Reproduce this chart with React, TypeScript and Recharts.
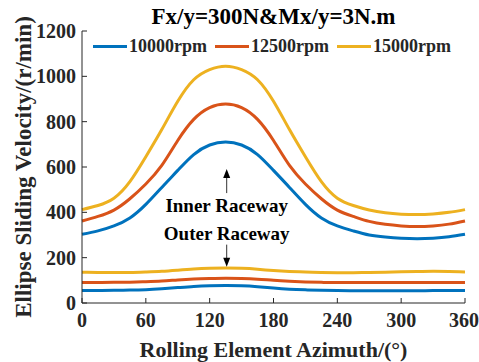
import React from 'react';
import { LineChart, Line, XAxis, YAxis, Legend, ReferenceDot } from 'recharts';

const azimuth = [0, 15, 30, 45, 60, 75, 90, 105, 120, 135, 150, 165, 180, 195, 210, 225, 240, 255, 270, 285, 300, 315, 330, 345, 360];

const inner10000 = [303, 318, 340, 375, 435, 510, 585, 655, 697, 710, 697, 655, 585, 510, 435, 375, 340, 318, 300, 291, 286, 284, 286, 292, 303];
const inner12500 = [362, 382, 410, 460, 525, 607, 717, 810, 862, 878, 862, 810, 717, 607, 525, 460, 410, 382, 360, 347, 340, 337, 340, 348, 362];
const inner15000 = [412, 430, 462, 535, 645, 765, 890, 985, 1030, 1045, 1030, 985, 890, 765, 645, 535, 462, 430, 410, 398, 392, 390, 393, 400, 412];

const outer10000 = [55, 55, 56, 57, 59, 63, 68, 73, 76, 77, 76, 72, 66, 61, 58, 56, 55, 54, 54, 54, 54, 54, 55, 55, 55];
const outer12500 = [90, 90, 91, 92, 94, 97, 102, 106, 108, 109, 108, 105, 100, 96, 93, 91, 90, 90, 90, 90, 90, 90, 90, 90, 90];
const outer15000 = [136, 135, 135, 135, 137, 140, 145, 150, 153, 154, 153, 149, 143, 139, 137, 135, 134, 134, 135, 136, 138, 139, 140, 139, 137];

const xTicks = [0, 60, 120, 180, 240, 300, 360];
const yTicks = [0, 200, 400, 600, 800, 1000, 1200];

const data = azimuth.map((a, i) => ({
    a,
    i1: inner10000[i],
    i2: inner12500[i],
    i3: inner15000[i],
    o1: outer10000[i],
    o2: outer12500[i],
    o3: outer15000[i],
}));

const FONT = '"Liberation Serif", serif';
const INK = '#262626';
const C1 = '#0072BD';
const C2 = '#D95319';
const C3 = '#EDB120';

const tickStyle = { fontFamily: FONT, fontSize: 20, fontWeight: 700, fill: INK };

const YLabel = (props: any) => {
    const vb = props.viewBox;
    const cy = vb.y + vb.height / 2;
    return (
        <text
            transform={`translate(23, ${cy}) rotate(-90)`}
            textAnchor="middle"
            dominantBaseline="central"
            fontFamily={FONT}
            fontSize={23}
            fontWeight={700}
            fill={INK}
        >
            Ellipse Sliding Velocity/(r/min)
        </text>
    );
};

const XLabel = (props: any) => {
    const vb = props.viewBox;
    return (
        <text
            x={vb.x + vb.width / 2}
            y={357}
            textAnchor="middle"
            fontFamily={FONT}
            fontSize={22}
            fontWeight={700}
            fill={INK}
        >
            Rolling Element Azimuth/(°)
        </text>
    );
};

const UpNote = (props: any) => {
    const { cx, cy } = props;
    return (
        <g>
            <line x1={cx} y1={cy - 12} x2={cx} y2={cy - 32} stroke="#333" strokeWidth={1} />
            <path d={`M${cx - 3.5},${cy - 27} L${cx},${cy - 36} L${cx + 3.5},${cy - 27} Z`} fill="#000" />
            <text x={cx} y={cy} textAnchor="middle" dominantBaseline="central"
                fontFamily={FONT} fontSize={19} fontWeight={700} fill="#000">
                Inner Raceway
            </text>
        </g>
    );
};

const DownNote = (props: any) => {
    const { cx, cy } = props;
    return (
        <g>
            <line x1={cx} y1={cy + 11} x2={cx} y2={cy + 29} stroke="#333" strokeWidth={1} />
            <path d={`M${cx - 3.5},${cy + 24} L${cx},${cy + 33} L${cx + 3.5},${cy + 24} Z`} fill="#000" />
            <text x={cx} y={cy} textAnchor="middle" dominantBaseline="central"
                fontFamily={FONT} fontSize={19} fontWeight={700} fill="#000">
                Outer Raceway
            </text>
        </g>
    );
};

const LegendBox = (props: any) => {
    const items = (props.payload || []).filter((p: any) => p.type !== 'none');
    return (
        <div style={{ display: 'flex', alignItems: 'center', fontFamily: FONT, fontSize: 18, fontWeight: 700, color: INK }}>
            {items.map((p: any) => (
                <div key={p.value} style={{ display: 'flex', alignItems: 'center', marginRight: 8 }}>
                    <span style={{ display: 'inline-block', width: 34, height: 3, background: p.color, marginRight: 2 }} />
                    <span>{p.value}</span>
                </div>
            ))}
        </div>
    );
};

const App: React.FC = () => {
    return (
        <div style={{ position: 'relative', width: 479, height: 362 }}>
            <style>{`body { margin: 0; } .recharts-surface { overflow: visible; }`}</style>
            <div style={{
                position: 'absolute', left: 82, width: 383, top: 5, textAlign: 'center',
                fontFamily: FONT, fontSize: 23, fontWeight: 700, color: '#000', lineHeight: '23px',
            }}>
                Fx/y=300N&amp;Mx/y=3N.m
            </div>
            <LineChart width={479} height={362} data={data} margin={{ top: 31, right: 14, left: 22, bottom: 29 }}>
                <XAxis
                    dataKey="a"
                    type="number"
                    domain={[0, 360]}
                    ticks={xTicks}
                    height={30}
                    tickSize={-5}
                    tickMargin={15}
                    tick={tickStyle}
                    stroke={INK}
                    label={<XLabel />}
                />
                <XAxis
                    xAxisId="top"
                    orientation="top"
                    dataKey="a"
                    type="number"
                    domain={[0, 360]}
                    ticks={xTicks}
                    height={0}
                    tickSize={-5}
                    tick={false}
                    stroke={INK}
                />
                <YAxis
                    type="number"
                    domain={[0, 1200]}
                    ticks={yTicks}
                    width={60}
                    tickSize={-5}
                    tickMargin={11}
                    tick={tickStyle}
                    stroke={INK}
                    label={<YLabel />}
                />
                <YAxis
                    yAxisId="right"
                    orientation="right"
                    type="number"
                    domain={[0, 1200]}
                    ticks={yTicks}
                    width={0}
                    tickSize={-5}
                    tick={false}
                    stroke={INK}
                />
                <Legend
                    layout="horizontal"
                    verticalAlign="middle"
                    align="center"
                    content={<LegendBox />}
                    wrapperStyle={{ position: 'absolute', top: 36, left: 93, width: 380 }}
                />
                <Line dataKey="i1" name="10000rpm" stroke={C1} strokeWidth={3} dot={false} type="natural" isAnimationActive={false} />
                <Line dataKey="i2" name="12500rpm" stroke={C2} strokeWidth={3} dot={false} type="natural" isAnimationActive={false} />
                <Line dataKey="i3" name="15000rpm" stroke={C3} strokeWidth={3} dot={false} type="natural" isAnimationActive={false} />
                <Line dataKey="o1" legendType="none" stroke={C1} strokeWidth={3} dot={false} type="natural" isAnimationActive={false} />
                <Line dataKey="o2" legendType="none" stroke={C2} strokeWidth={3} dot={false} type="natural" isAnimationActive={false} />
                <Line dataKey="o3" legendType="none" stroke={C3} strokeWidth={3} dot={false} type="natural" isAnimationActive={false} />
                <ReferenceDot x={136} y={432} shape={<UpNote />} />
                <ReferenceDot x={136} y={306} shape={<DownNote />} />
            </LineChart>
        </div>
    );
};

export default App;
